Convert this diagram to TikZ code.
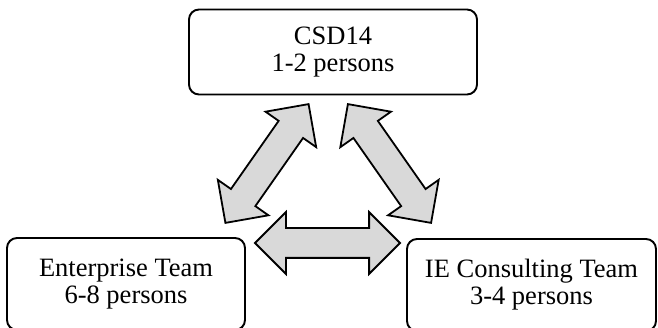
\documentclass[tikz,border=0pt]{standalone}
\usepackage{fontspec}
\setmainfont{Liberation Serif}
\usetikzlibrary{shapes.arrows}
\definecolor{linkgray}{HTML}{D9D9D9}
\tikzset{%
  team/.style = {rectangle,draw,rounded corners=10pt,line width=1.9pt,
        align=center,font=\fontsize{26.5}{27}\selectfont},
  link/.style = {double arrow,draw,fill=linkgray,line width=1.8pt,
        minimum height=145pt,minimum width=60pt,inner xsep=0pt,inner ysep=14pt,
        double arrow head extend=16pt,double arrow tip angle=90}
}

\begin{document}
\begin{tikzpicture}[x=1pt,y=-1pt]
  \useasboundingbox (0,0) rectangle (658,328);
  \clip (0,0) rectangle (658,328);
  % the three teams
  \node[team,minimum width=288pt,minimum height=85pt] (csd) at (333,52) {CSD14\\1-2 persons};
  \node[team,minimum width=238pt,minimum height=92pt] (ent) at (126,284) {Enterprise Team\\6-8 persons};
  \node[team,minimum width=249pt,minimum height=92pt] (iec) at (531.5,285) {IE Consulting Team\\3-4 persons};
  % block arrows between them
  \node[link,rotate=55] (csdent) at (267,163.5) {};
  \node[link,rotate=-55] (csdiec) at (389.5,163.5) {};
  \node[link] (entiec) at (327.5,243) {};
\end{tikzpicture}
\end{document}
